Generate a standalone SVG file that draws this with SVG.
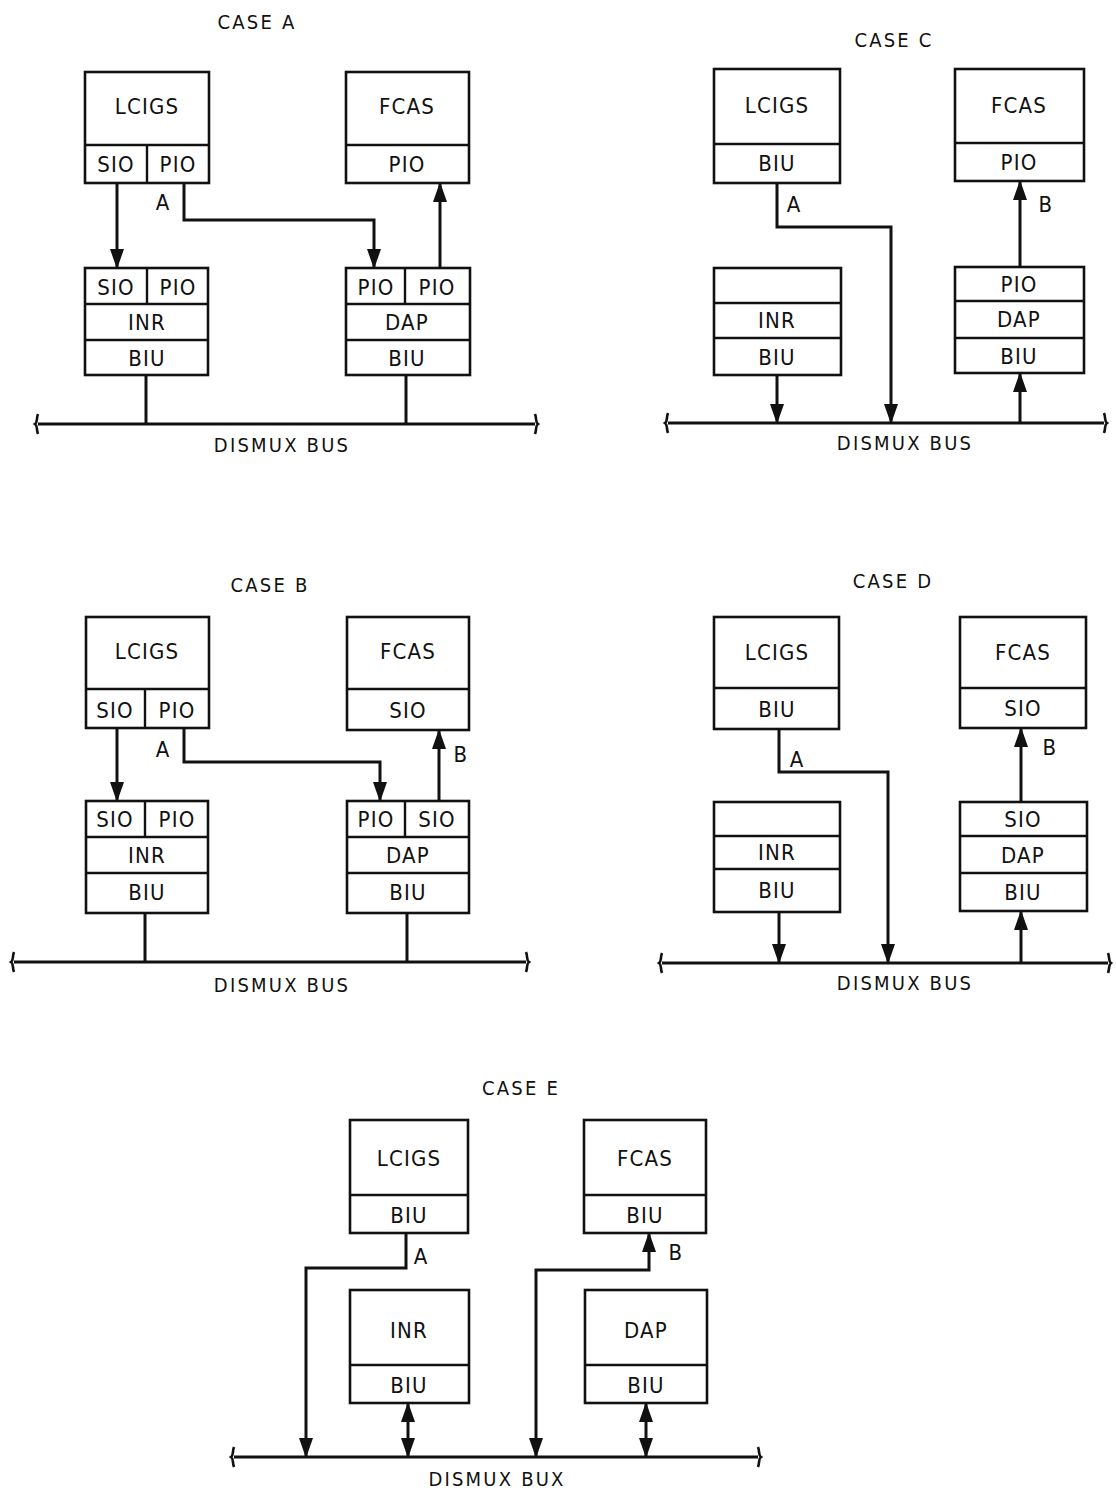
<svg xmlns="http://www.w3.org/2000/svg" width="1116" height="1501" viewBox="0 0 1116 1501">
<style>
.bx{fill:#fff;stroke:#111;stroke-width:2.6}
.dv{fill:none;stroke:#111;stroke-width:2.4}
.t{font-family:"DejaVu Sans Condensed","DejaVu Sans",sans-serif;font-size:22px;letter-spacing:1.2px;text-anchor:middle;dominant-baseline:central;fill:#111}
.tt{font-family:"DejaVu Sans Condensed","DejaVu Sans",sans-serif;font-size:20px;letter-spacing:2.2px;text-anchor:middle;dominant-baseline:central;fill:#111}
.c{fill:none;stroke:#111;stroke-width:3}
.ca{fill:none;stroke:#111;stroke-width:3;marker-end:url(#ah)}
.cb{fill:none;stroke:#111;stroke-width:3;marker-start:url(#ah);marker-end:url(#ah)}
.bus{fill:none;stroke:#111;stroke-width:3;marker-start:url(#be);marker-end:url(#be)}
</style>
<defs>
<marker id="ah" markerUnits="userSpaceOnUse" markerWidth="20" markerHeight="14" refX="19" refY="7" orient="auto-start-reverse" viewBox="0 0 20 14">
<path d="M0,0 L20,7 L0,14 z" fill="#111"/>
</marker>
<marker id="be" markerUnits="userSpaceOnUse" markerWidth="12" markerHeight="22" refX="5" refY="11" orient="auto-start-reverse" viewBox="0 0 12 22">
<path d="M5,1 C7,6 5,9 8,11 C5,13 7,16 5,21" fill="none" stroke="#111" stroke-width="2.6"/>
</marker>
</defs>

<!-- CASE A -->
<g id="case-a">
<text class="tt" x="257" y="22">CASE A</text>
<g id="a-lcigs">
<rect class="bx" x="85" y="72" width="124" height="111"/>
<path class="dv" d="M85,145 H209 M147,145 V183"/>
<text class="t" x="147" y="106">LCIGS</text>
<text class="t" x="116" y="164">SIO</text>
<text class="t" x="178" y="164">PIO</text>
</g>
<g id="a-fcas">
<rect class="bx" x="346" y="72" width="123" height="111"/>
<path class="dv" d="M346,145 H469"/>
<text class="t" x="407" y="106">FCAS</text>
<text class="t" x="407" y="164">PIO</text>
</g>
<g id="a-inr">
<rect class="bx" x="85" y="268" width="123" height="107"/>
<path class="dv" d="M85,304 H208 M85,340 H208 M147,268 V304"/>
<text class="t" x="116" y="287">SIO</text>
<text class="t" x="178" y="287">PIO</text>
<text class="t" x="147" y="322">INR</text>
<text class="t" x="147" y="358">BIU</text>
</g>
<g id="a-dap">
<rect class="bx" x="346" y="268" width="124" height="107"/>
<path class="dv" d="M346,304 H470 M346,340 H470 M405,268 V304"/>
<text class="t" x="376" y="287">PIO</text>
<text class="t" x="437" y="287">PIO</text>
<text class="t" x="407" y="322">DAP</text>
<text class="t" x="407" y="358">BIU</text>
</g>
<g id="a-bus">
<path class="bus" d="M38,424 H535"/>
<text class="tt" x="282" y="445">DISMUX BUS</text>
</g>
</g>

<!-- CASE C -->
<g id="case-c">
<text class="tt" x="894" y="40">CASE C</text>
<g id="c-lcigs">
<rect class="bx" x="714" y="69" width="126" height="114"/>
<path class="dv" d="M714,144 H840"/>
<text class="t" x="777" y="105">LCIGS</text>
<text class="t" x="777" y="163">BIU</text>
</g>
<g id="c-fcas">
<rect class="bx" x="955" y="69" width="129" height="112"/>
<path class="dv" d="M955,143 H1084"/>
<text class="t" x="1019" y="105">FCAS</text>
<text class="t" x="1019" y="162">PIO</text>
</g>
<g id="c-inr">
<rect class="bx" x="714" y="268" width="127" height="107"/>
<path class="dv" d="M714,303 H841 M714,338 H841"/>
<text class="t" x="777" y="320">INR</text>
<text class="t" x="777" y="357">BIU</text>
</g>
<g id="c-dap">
<rect class="bx" x="955" y="267" width="129" height="106"/>
<path class="dv" d="M955,301 H1084 M955,338 H1084"/>
<text class="t" x="1019" y="284">PIO</text>
<text class="t" x="1019" y="319">DAP</text>
<text class="t" x="1019" y="356">BIU</text>
</g>
<g id="c-bus">
<path class="bus" d="M668,423 H1104"/>
<text class="tt" x="905" y="443">DISMUX BUS</text>
</g>
</g>

<!-- CASE B -->
<g id="case-b">
<text class="tt" x="270" y="585">CASE B</text>
<g id="b-lcigs">
<rect class="bx" x="86" y="617" width="123" height="111"/>
<path class="dv" d="M86,689 H209 M145,689 V728"/>
<text class="t" x="147" y="651">LCIGS</text>
<text class="t" x="115" y="710">SIO</text>
<text class="t" x="177" y="710">PIO</text>
</g>
<g id="b-fcas">
<rect class="bx" x="347" y="617" width="122" height="113"/>
<path class="dv" d="M347,689 H469"/>
<text class="t" x="408" y="651">FCAS</text>
<text class="t" x="408" y="710">SIO</text>
</g>
<g id="b-inr">
<rect class="bx" x="86" y="801" width="122" height="112"/>
<path class="dv" d="M86,837 H208 M86,873 H208 M145,801 V837"/>
<text class="t" x="115" y="819">SIO</text>
<text class="t" x="177" y="819">PIO</text>
<text class="t" x="147" y="855">INR</text>
<text class="t" x="147" y="892">BIU</text>
</g>
<g id="b-dap">
<rect class="bx" x="347" y="801" width="122" height="112"/>
<path class="dv" d="M347,837 H469 M347,873 H469 M405,801 V837"/>
<text class="t" x="376" y="819">PIO</text>
<text class="t" x="437" y="819">SIO</text>
<text class="t" x="408" y="855">DAP</text>
<text class="t" x="408" y="892">BIU</text>
</g>
<g id="b-bus">
<path class="bus" d="M14,962 H526"/>
<text class="tt" x="282" y="985">DISMUX BUS</text>
</g>
</g>

<!-- CASE D -->
<g id="case-d">
<text class="tt" x="893" y="581">CASE D</text>
<g id="d-lcigs">
<rect class="bx" x="714" y="617" width="125" height="112"/>
<path class="dv" d="M714,688 H839"/>
<text class="t" x="777" y="652">LCIGS</text>
<text class="t" x="777" y="709">BIU</text>
</g>
<g id="d-fcas">
<rect class="bx" x="960" y="617" width="126" height="111"/>
<path class="dv" d="M960,688 H1086"/>
<text class="t" x="1023" y="652">FCAS</text>
<text class="t" x="1023" y="708">SIO</text>
</g>
<g id="d-inr">
<rect class="bx" x="714" y="802" width="126" height="110"/>
<path class="dv" d="M714,836 H840 M714,869 H840"/>
<text class="t" x="777" y="852">INR</text>
<text class="t" x="777" y="890">BIU</text>
</g>
<g id="d-dap">
<rect class="bx" x="960" y="802" width="127" height="109"/>
<path class="dv" d="M960,836 H1087 M960,873 H1087"/>
<text class="t" x="1023" y="819">SIO</text>
<text class="t" x="1023" y="855">DAP</text>
<text class="t" x="1023" y="892">BIU</text>
</g>
<g id="d-bus">
<path class="bus" d="M662,963 H1108"/>
<text class="tt" x="905" y="983">DISMUX BUS</text>
</g>
</g>

<!-- CASE E -->
<g id="case-e">
<text class="tt" x="521" y="1088">CASE E</text>
<g id="e-lcigs">
<rect class="bx" x="350" y="1120" width="118" height="113"/>
<path class="dv" d="M350,1195 H468"/>
<text class="t" x="409" y="1158">LCIGS</text>
<text class="t" x="409" y="1215">BIU</text>
</g>
<g id="e-fcas">
<rect class="bx" x="584" y="1120" width="122" height="113"/>
<path class="dv" d="M584,1195 H706"/>
<text class="t" x="645" y="1158">FCAS</text>
<text class="t" x="645" y="1215">BIU</text>
</g>
<g id="e-inr">
<rect class="bx" x="350" y="1290" width="119" height="113"/>
<path class="dv" d="M350,1365 H469"/>
<text class="t" x="409" y="1330">INR</text>
<text class="t" x="409" y="1385">BIU</text>
</g>
<g id="e-dap">
<rect class="bx" x="585" y="1290" width="122" height="113"/>
<path class="dv" d="M585,1365 H707"/>
<text class="t" x="646" y="1330">DAP</text>
<text class="t" x="646" y="1385">BIU</text>
</g>
<g id="e-bus">
<path class="bus" d="M234,1457 H758"/>
<text class="tt" x="497" y="1479">DISMUX BUX</text>
</g>
</g>

<!-- CONNECTORS -->
<g id="connectors">
<!-- A -->
<path class="ca" d="M117,183 V268"/>
<path class="ca" d="M184,183 V220 H374 V268"/>
<text class="t" x="163" y="202">A</text>
<path class="ca" d="M440,268 V183"/>
<path class="c" d="M146,375 V424"/>
<path class="c" d="M406,375 V424"/>
<!-- C -->
<path class="ca" d="M777,183 V227 H891 V423"/>
<text class="t" x="794" y="204">A</text>
<path class="ca" d="M777,375 V423"/>
<path class="ca" d="M1020,423 V373"/>
<path class="ca" d="M1020,267 V181"/>
<text class="t" x="1046" y="204">B</text>
<!-- B -->
<path class="ca" d="M117,728 V801"/>
<path class="ca" d="M184,728 V762 H380 V801"/>
<text class="t" x="163" y="749">A</text>
<path class="ca" d="M439,801 V730"/>
<text class="t" x="461" y="754">B</text>
<path class="c" d="M145,913 V962"/>
<path class="c" d="M407,913 V962"/>
<!-- D -->
<path class="ca" d="M779,729 V772 H888 V963"/>
<text class="t" x="797" y="759">A</text>
<path class="ca" d="M779,912 V963"/>
<path class="ca" d="M1021,963 V911"/>
<path class="ca" d="M1021,802 V728"/>
<text class="t" x="1050" y="747">B</text>
<!-- E -->
<path class="ca" d="M406,1233 V1268 H306 V1457"/>
<text class="t" x="421" y="1256">A</text>
<path class="cb" d="M536,1457 V1270 H649 V1233"/>
<text class="t" x="676" y="1252">B</text>
<path class="cb" d="M408,1403 V1457"/>
<path class="cb" d="M646,1403 V1457"/>
</g>
</svg>
